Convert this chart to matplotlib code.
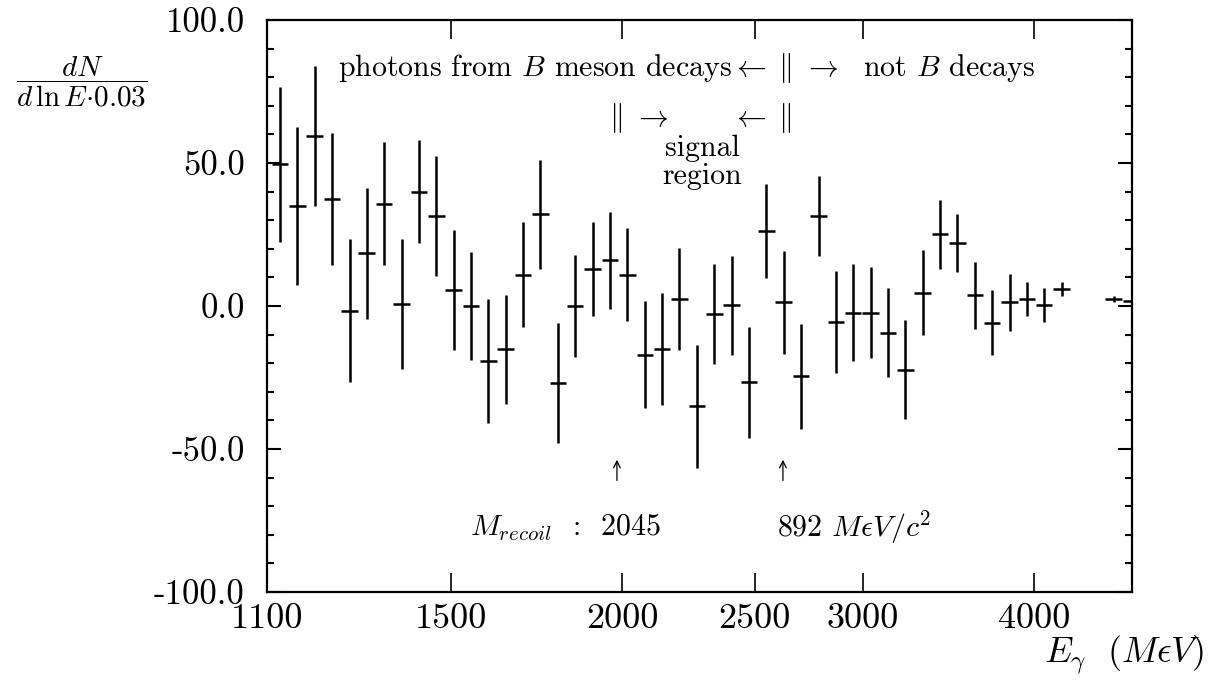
import matplotlib
matplotlib.use("Agg")
matplotlib.rcParams.update({
    "font.family": "cmr10",
    "mathtext.fontset": "cm",
    "axes.unicode_minus": False,
    "axes.formatter.use_mathtext": True,
})

import matplotlib.pyplot as plt
import matplotlib.ticker as mticker
import numpy as np

# photon energy bin centres (MeV), bins of 0.03 in ln E
energy = [1124, 1158, 1192, 1227, 1264, 1301, 1340, 1380, 1421, 1463,
          1506, 1551, 1597, 1644, 1693, 1743, 1795, 1848, 1903, 1960,
          2018, 2078, 2139, 2203, 2268, 2336, 2405, 2476, 2550, 2625,
          2703, 2784, 2866, 2951, 3039, 3129, 3222, 3317, 3416, 3517,
          3622, 3729, 3840, 3954, 4071, 4192, 4576, 4712]
counts = [49.5, 35, 59.5, 37.5, -1.6, 18.4, 35.7, 0.6, 40, 31.6,
          5.6, 0, -19.2, -15.2, 11, 32, -27, 0, 13, 16,
          11, -17, -15, 2.3, -35, -2.8, 0.3, -26.7, 26.2, 1.3,
          -24.6, 31.5, -5.6, -2.3, -2.3, -9.3, -22.3, 4.7, 25, 22,
          3.8, -5.8, 1.3, 2.4, 0.3, 5.9, 2.4, 1.8]
errors = [27, 27.5, 24.5, 23, 25, 23, 21.5, 22.7, 18, 21,
          21, 19, 21.7, 19, 18.5, 19, 21, 18, 16.5, 17,
          16.2, 18.6, 19.7, 17.8, 21.5, 17.6, 17.3, 19.5, 16.5, 18,
          18.4, 14, 18, 17, 16, 15.6, 17.3, 15, 12, 10,
          11.7, 11.5, 10, 6, 6, 2.5, 1.0, 0.3]

x_ticks = [1100, 1500, 2000, 2500, 3000, 4000]
x_ticklabels = ["1100", "1500", "2000", "2500", "3000", "4000"]
y_ticks = [-100, -50, 0, 50, 100]
y_ticklabels = ["-100.0", "-50.0", "0.0", "50.0", "100.0"]

HALF_BIN = 0.0138  # half width of the horizontal bar, in ln E

fig = plt.figure(figsize=(12.19, 6.84), dpi=100)
ax = fig.add_axes([0.219, 0.1345, 0.7096, 0.8363])

e = np.array(energy, dtype=float)
xerr = [e - e * np.exp(-HALF_BIN), e * np.exp(HALF_BIN) - e]
ax.errorbar(e, counts, yerr=errors, xerr=xerr, fmt="none",
            ecolor="black", elinewidth=1.8, capsize=0)

ax.set_xscale("log")
ax.set_xlim(1100, 4719)
ax.set_ylim(-100, 100)

ax.xaxis.set_major_locator(mticker.FixedLocator(x_ticks))
ax.xaxis.set_major_formatter(mticker.FixedFormatter(x_ticklabels))
ax.xaxis.set_minor_locator(mticker.NullLocator())
ax.yaxis.set_major_locator(mticker.FixedLocator(y_ticks))
ax.yaxis.set_major_formatter(mticker.FixedFormatter(y_ticklabels))
ax.yaxis.set_minor_locator(mticker.MultipleLocator(10))

ax.tick_params(axis="x", which="major", direction="in", length=14,
               width=1.2, top=True, labelsize=26, pad=8)
ax.tick_params(axis="y", which="major", direction="in", length=10,
               width=1.5, right=True, labelsize=25, pad=16)
ax.tick_params(axis="y", which="minor", direction="in", length=5,
               width=1.5, right=True)
for sp in ax.spines.values():
    sp.set_linewidth(1.6)

# ── annotations ──────────────────────────────────────────────────────────
T = ax.transAxes
fs = 21.5
ax.text(0.577, 0.916, r"photons from $B$ meson decays$\leftarrow$",
        transform=T, ha="right", va="center", fontsize=fs)
ax.text(0.598, 0.916, r"$\Vert$", transform=T, ha="center", va="center",
        fontsize=fs)
ax.text(0.620, 0.916, r"$\rightarrow$  not $B$ decays", transform=T,
        ha="left", va="center", fontsize=fs)

ax.text(0.4035, 0.829, r"$\Vert$", transform=T, ha="center", va="center",
        fontsize=fs)
ax.text(0.423, 0.829, r"$\rightarrow$", transform=T, ha="left",
        va="center", fontsize=fs)
ax.text(0.577, 0.829, r"$\leftarrow$", transform=T, ha="right",
        va="center", fontsize=fs)
ax.text(0.598, 0.829, r"$\Vert$", transform=T, ha="center", va="center",
        fontsize=fs)
ax.text(0.503, 0.751, "signal\nregion", transform=T, ha="center",
        va="center", fontsize=fs, linespacing=1.05)

for xa in (0.4046, 0.5965):
    ax.annotate("", xy=(xa, 0.236), xytext=(xa, 0.190), xycoords=T,
                arrowprops=dict(arrowstyle="->", lw=0.9, color="black",
                                mutation_scale=12))

ax.text(0.2347, 0.1136, r"$M_{recoil}$  :  2045", transform=T,
        ha="left", va="center", fontsize=fs)
ax.text(0.5896, 0.1136, r"892 $M\epsilon V/c^2$", transform=T,
        ha="left", va="center", fontsize=fs)

fig.text(0.0673, 0.880, r"$\dfrac{dN}{d\,\ln E{\cdot}0.03}$",
         ha="center", va="center", fontsize=21)
fig.text(0.988, 0.012, r"$E_\gamma\ \ (M\epsilon V)$", ha="right",
         va="bottom", fontsize=26)

fig.savefig("out.png", dpi=100, facecolor="white")
